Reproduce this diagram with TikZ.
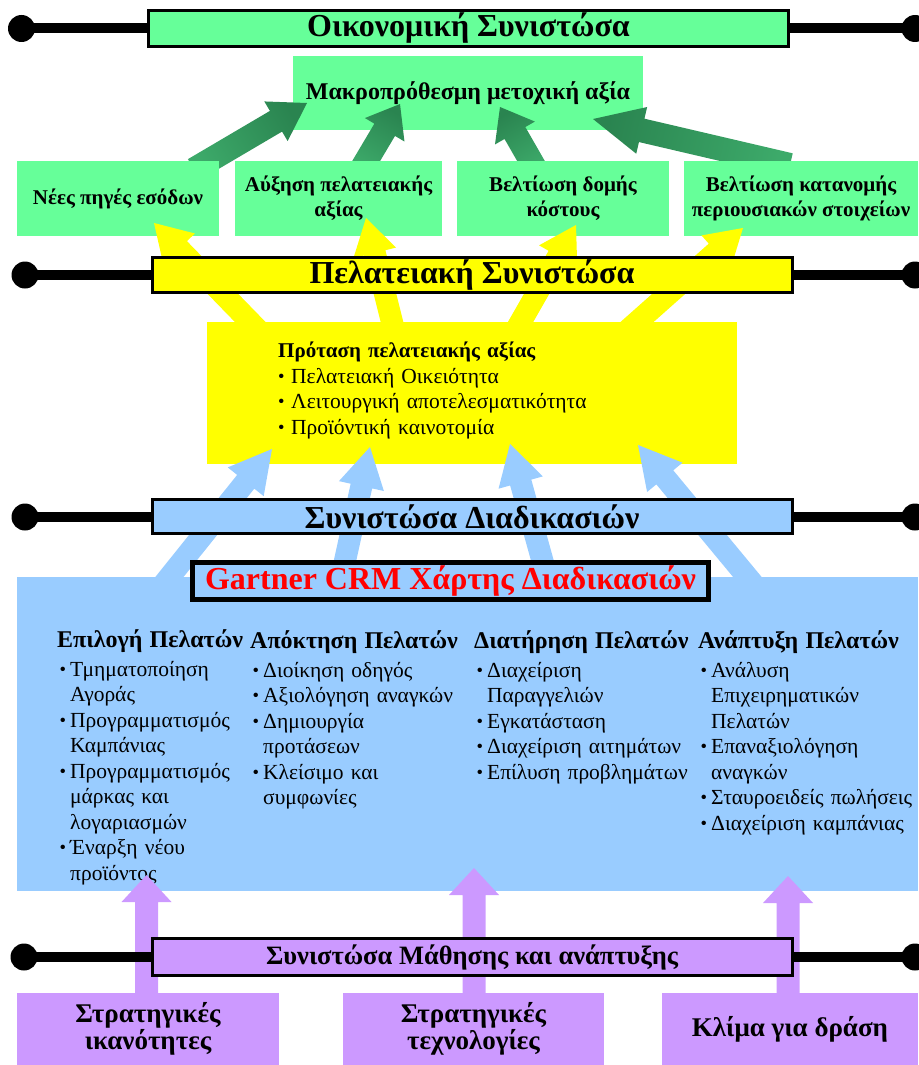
\documentclass[tikz,border=0pt]{standalone}
\usepackage{fontspec}
\setmainfont{Liberation Serif}
\usetikzlibrary{calc}

\definecolor{ecogreen}{HTML}{66FF99}
\definecolor{ecodark}{HTML}{2A8450}
\definecolor{ecomid}{HTML}{3DAA6A}
\definecolor{custyellow}{HTML}{FFFF00}
\definecolor{procblue}{HTML}{99CCFF}
\definecolor{learnpurple}{HTML}{CC99FF}
\definecolor{crmred}{HTML}{FF0000}

% block arrow: [style]{tail}{tip}{half shaft width}{half head width}{head length}
\newcommand\blockarrow[6][]{%
  \coordinate (ba-base) at ($(#3)!#6pt!(#2)$);
  \path[#1] ($(#2)!#4pt!90:(#3)$) -- ($(ba-base)!#4pt!90:(#3)$)
    -- ($(ba-base)!#5pt!90:(#3)$) -- (#3)
    -- ($(ba-base)!#5pt!-90:(#3)$) -- ($(ba-base)!#4pt!-90:(#3)$)
    -- ($(#2)!#4pt!-90:(#3)$) -- cycle;
}
% bulleted item with hanging indent; optional argument shifts the bullet
\newcommand\li[2][2.5pt]{\par\hangindent=13pt\hangafter=1\noindent
  \makebox[13pt][l]{\hspace{#1}\raisebox{1pt}{\fontsize{18.5}{18.5}\selectfont •}}#2\par}
% list heading
\newcommand\lhead[1]{\noindent{\fontsize{24}{28}\bfseries #1\par}\vspace{3.5pt}}

\begin{document}
\begin{tikzpicture}[x=1pt,y=-1pt,
  band/.style={draw=black, line width=3pt, inner sep=0pt, minimum width=640pt,
    font=\bfseries\fontsize{32}{32}\selectfont},
  tie/.style={line width=10pt},
  knob/.style={fill=black},
  panel/.style={inner sep=0pt, align=center, font=\bfseries\fontsize{21}{25}\selectfont},
  greenarrow/.style={top color=ecodark, middle color=ecogreen, bottom color=ecomid, shading angle=#1},
  yellowarrow/.style={fill=custyellow},
  bluearrow/.style={fill=procblue},
  purplearrow/.style={fill=learnpurple},
  listtext/.style={anchor=north west, inner sep=0pt, text width=#1,
    font=\fontsize{21.5}{25.5}\selectfont},
]
\useasboundingbox (0,0) rectangle (918,1065);

% ---------------- financial perspective ----------------
\coordinate (ecoL) at (21.5,28.5);
\coordinate (ecoR) at (915,28.5);
\draw[tie] (ecoL) -- (468,28.5) -- (ecoR);
\fill[knob] (ecoL) circle[radius=13.5];
\fill[knob] (ecoR) circle[radius=13.5];
\node[band, fill=ecogreen, minimum height=36pt] (econ) at (468.5,28.5) {Οικονομική Συνιστώσα};

\node[panel, fill=ecogreen, minimum width=350pt, minimum height=74pt,
  font=\bfseries\fontsize{24}{28}\selectfont] (value) at (468,93) {Μακροπρόθεσμη μετοχική αξία};

\coordinate (g1t) at (194,169.5);  \coordinate (g1h) at (307,103);
\coordinate (g2t) at (362,168);    \coordinate (g2h) at (400,104);
\coordinate (g3t) at (535,168);    \coordinate (g3h) at (500,107);
\coordinate (g4t) at (790,165);    \coordinate (g4h) at (593,119);
\blockarrow[greenarrow=-59.5]{g1t}{g1h}{12}{23}{36}
\blockarrow[greenarrow=-30.7]{g2t}{g2h}{12}{23}{30}
\blockarrow[greenarrow=29.8]{g3t}{g3h}{12}{23}{30}
\blockarrow[greenarrow=76.9]{g4t}{g4h}{12}{24}{50}

\node[panel, fill=ecogreen, minimum width=202pt, minimum height=75pt] (rev) at (118,198.5) {Νέες πηγές εσόδων};
\node[panel, fill=ecogreen, minimum width=207pt, minimum height=75pt] (cval) at (338.5,198.5) {Αύξηση πελατειακής\\αξίας};
\node[panel, fill=ecogreen, minimum width=212pt, minimum height=75pt] (cost) at (563,198.5) {Βελτίωση δομής\\κόστους};
\node[panel, fill=ecogreen, minimum width=234pt, minimum height=75pt] (asset) at (801,198.5) {Βελτίωση κατανομής\\περιουσιακών στοιχείων};

% ---------------- customer perspective ----------------
\node[fill=custyellow, inner sep=0pt, minimum width=530pt, minimum height=142pt] (offer) at (472,393) {};
\node[listtext=430pt] (offertext) at (278,342) {\noindent{\fontsize{21}{25.5}\bfseries Πρόταση πελατειακής αξίας}
  \li[0pt]{Πελατειακή Οικειότητα}
  \li[0pt]{Λειτουργική αποτελεσματικότητα}
  \li[0pt]{Προϊόντική καινοτομία}};

\coordinate (y1t) at (258,330); \coordinate (y1h) at (154,223);
\coordinate (y2t) at (394,330); \coordinate (y2h) at (366,218);
\coordinate (y3t) at (516,330); \coordinate (y3h) at (576,225);
\coordinate (y4t) at (628,330); \coordinate (y4h) at (743,228);
\blockarrow[yellowarrow]{y1t}{y1h}{11}{22}{36}
\blockarrow[yellowarrow]{y2t}{y2h}{11}{22}{36}
\blockarrow[yellowarrow]{y3t}{y3h}{11}{22}{36}
\blockarrow[yellowarrow]{y4t}{y4h}{11}{22}{36}

\coordinate (custL) at (25,275);
\coordinate (custR) at (915,275);
\draw[tie] (custL) -- (472,275) -- (custR);
\fill[knob] (custL) circle[radius=13.5];
\fill[knob] (custR) circle[radius=13.5];
\node[band, fill=custyellow, minimum height=35pt] (cust) at (472,275) {Πελατειακή Συνιστώσα};

% ---------------- internal process perspective ----------------
\coordinate (b1t) at (163,585); \coordinate (b1h) at (272,449);
\coordinate (b2t) at (339,588); \coordinate (b2h) at (370,447);
\coordinate (b3t) at (550,588); \coordinate (b3h) at (510,444);
\coordinate (b4t) at (754,585); \coordinate (b4h) at (638,445);
\blockarrow[bluearrow]{b1t}{b1h}{11}{23}{42}
\blockarrow[bluearrow]{b2t}{b2h}{11}{23}{40}
\blockarrow[bluearrow]{b3t}{b3h}{11}{23}{40}
\blockarrow[bluearrow]{b4t}{b4h}{11}{23}{42}

\coordinate (procL) at (25,517);
\coordinate (procR) at (915,517);
\draw[tie] (procL) -- (472,517) -- (procR);
\fill[knob] (procL) circle[radius=13.5];
\fill[knob] (procR) circle[radius=13.5];
\node[band, fill=procblue, minimum height=34pt] (proc) at (472,516.5) {Συνιστώσα Διαδικασιών};

\node[fill=procblue, inner sep=0pt, minimum width=901pt, minimum height=314pt] (crm) at (467.5,734) {};
\node[draw=black, line width=5pt, fill=procblue, inner sep=0pt, minimum width=516pt, minimum height=37pt,
  text=crmred, font=\bfseries\fontsize{32}{32}\selectfont] (gartner) at (450.5,581) {Gartner CRM Χάρτης Διαδικασιών};

\node[listtext=200pt] (select) at (57,629) {\raggedright\lhead{Επιλογή Πελατών}
  \li{Τμηματοποίηση\newline Αγοράς}
  \li{Προγραμματισμός\newline Καμπάνιας}
  \li{Προγραμματισμός\newline μάρκας και\newline λογαριασμών}
  \li{Έναρξη νέου\newline προϊόντος}};
\node[listtext=225pt] (acquire) at (250,630) {\raggedright\lhead{Απόκτηση Πελατών}
  \li{Διοίκηση οδηγός}
  \li{Αξιολόγηση αναγκών}
  \li{Δημιουργία\newline προτάσεων}
  \li{Κλείσιμο και\newline συμφωνίες}};
\node[listtext=225pt] (retain) at (474,630) {\raggedright\lhead{Διατήρηση Πελατών}
  \li{Διαχείριση\newline Παραγγελιών}
  \li{Εγκατάσταση}
  \li{Διαχείριση αιτημάτων}
  \li{Επίλυση προβλημάτων}};
\node[listtext=225pt] (grow) at (698,630) {\raggedright\lhead{Ανάπτυξη Πελατών}
  \li{Ανάλυση\newline Επιχειρηματικών\newline Πελατών}
  \li{Επαναξιολόγηση\newline αναγκών}
  \li{Σταυροειδείς πωλήσεις}
  \li{Διαχείριση καμπάνιας}};

% ---------------- learning and growth perspective ----------------
\coordinate (p1t) at (146.5,1000); \coordinate (p1h) at (146.5,875);
\coordinate (p2t) at (474,1000);   \coordinate (p2h) at (474,868);
\coordinate (p3t) at (788,1000);   \coordinate (p3h) at (788,876);
\blockarrow[purplearrow]{p1t}{p1h}{11.5}{25}{27}
\blockarrow[purplearrow]{p2t}{p2h}{11.5}{25}{27}
\blockarrow[purplearrow]{p3t}{p3h}{11.5}{25}{27}

\coordinate (learnL) at (24,957);
\coordinate (learnR) at (915,957);
\draw[tie] (learnL) -- (472,957) -- (learnR);
\fill[knob] (learnL) circle[radius=13.5];
\fill[knob] (learnR) circle[radius=13.5];
\node[band, fill=learnpurple, minimum height=37pt, font=\bfseries\fontsize{26.5}{26.5}\selectfont] (learn) at (472,957) {Συνιστώσα Μάθησης και ανάπτυξης};

\node[panel, fill=learnpurple, minimum width=262pt, minimum height=72pt,
  font=\bfseries\fontsize{27}{27.5}\selectfont] (skills) at (148,1029) {Στρατηγικές\\ικανότητες};
\node[panel, fill=learnpurple, minimum width=261pt, minimum height=72pt,
  font=\bfseries\fontsize{27}{27.5}\selectfont] (tech) at (473.5,1029) {Στρατηγικές\\τεχνολογίες};
\node[panel, fill=learnpurple, minimum width=256pt, minimum height=72pt,
  font=\bfseries\fontsize{27}{27.5}\selectfont] (climate) at (790,1029) {Κλίμα για δράση};
\end{tikzpicture}
\end{document}
